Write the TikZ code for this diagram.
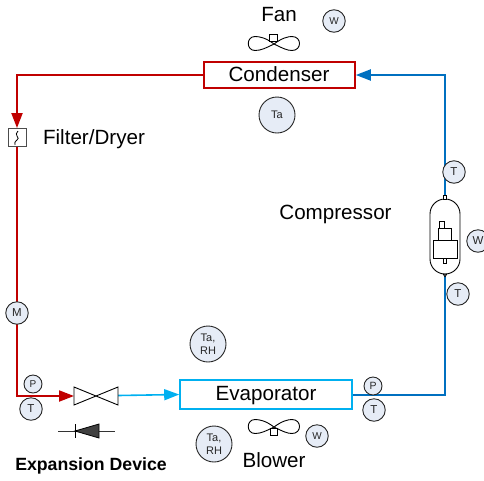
\documentclass[tikz,border=0pt]{standalone}
\usepackage{fontspec}
\setmainfont{Liberation Sans}
\usetikzlibrary{arrows.meta}
\definecolor{cRed}{HTML}{C00000}
\definecolor{cBlue}{HTML}{0070C0}
\definecolor{cSky}{HTML}{00B0F0}
\definecolor{cFill}{HTML}{E6ECF6}
\definecolor{cInk}{HTML}{262626}
\newcommand{\fanshape}[2]{%
  \draw[black,line width=0.9pt,xshift=#1,yshift=#2]
    (0,0) .. controls (-8,-6) and (-14,-7.5) .. (-19,-7.5)
    .. controls (-28,-7.5) and (-28,6.5) .. (-19,6.5)
    .. controls (-13,6.5) and (-8,4) .. (0,0)
    .. controls (8,-6) and (14,-7.5) .. (18,-7.5)
    .. controls (28,-7.5) and (28,6.5) .. (18,6.5)
    .. controls (13,6.5) and (8,4) .. (0,0) -- cycle;}
\tikzset{
  lbl/.style={font=\fontsize{20.6}{22}\selectfont,inner sep=0pt,text=black},
  unitbox/.style={draw,line width=1.6pt,fill=white,inner sep=0pt},
  pipe/.style={line width=2pt},
  tip/.style={-{Triangle[length=15pt,width=11pt]}},
  gauge/.style={circle,draw=cInk,line width=0.9pt,fill=cFill,inner sep=0pt,text=cInk,align=center,font=\fontsize{11.5}{12}\selectfont},
  gS/.style={gauge,minimum size=18pt},
  gM/.style={gauge,minimum size=22.5pt},
  gL/.style={gauge,minimum size=36pt,font=\fontsize{11}{13}\selectfont},
  part/.style={draw=black,line width=0.9pt,fill=white,inner sep=0pt},
}
\begin{document}
\begin{tikzpicture}[x=1pt,y=-1pt]
\useasboundingbox (0,0) rectangle (484,480);
% units
\node[unitbox,draw=cRed,minimum width=151pt,minimum height=26pt] (cond) at (279.5,75) {};
\node[unitbox,draw=cSky,minimum width=172pt,minimum height=29pt] (evap) at (266,394.5) {};
\node[lbl] (condt) at (279,74.5) {Condenser};
\node[lbl] (evapt) at (266,396) {Evaporator};
\node[draw=black!70,line width=0.9pt,fill=white,minimum size=18pt,inner sep=0pt] (filter) at (17,137.5) {};
\draw[black,line width=0.8pt] (18,131) .. controls (13,135) and (21,138) .. (17,140) .. controls (14,142) and (15,144) .. (15,145);
\coordinate (c1) at (17,75);
\coordinate (c2) at (17,396);
\coordinate (c3) at (445,394.5);
\coordinate (c4) at (445,75);
\coordinate (vL) at (74,396);
\coordinate (vR) at (118,395.5);
% compressor
\node[draw=black,line width=0.9pt,fill=white,rounded corners=15pt,minimum width=30pt,minimum height=75pt,inner sep=0pt] (comp) at (445,236.5) {};
\node[part,minimum width=24pt,minimum height=18pt] (cA) at (445,249) {};
\node[part,minimum width=13pt,minimum height=12pt] (cB) at (444.5,234) {};
\node[part,minimum width=5pt,minimum height=7pt] (cC) at (442,224.5) {};
\node[part,minimum width=2.5pt,minimum height=5pt] (cD) at (445,260.5) {};
\node[part,minimum width=2.5pt,minimum height=4pt] (cE) at (445,197) {};
% pipes
\draw[pipe,cRed,tip] (cond.west) -- (c1) -- (filter.north);
\draw[pipe,cRed,tip] (filter.south) -- (c2) -- (vL);
\draw[pipe,cSky,tip,line width=1.6pt] (vR) -- (evap.west);
\draw[pipe,cBlue] (evap.east) -- (c3) -- (comp.south);
\draw[pipe,cBlue,tip] (cE.north) -- (c4) -- (cond.east);
\draw[black,fill=black!70,line width=0.5pt] (443,274) -- (447,274) -- (445,277) -- cycle;
% valve
\draw[black,line width=0.9pt,fill=white] (74,387) -- (118,405) -- (118,387) -- (74,405) -- cycle;
% expansion symbol
\coordinate (eL) at (58,431);
\coordinate (eR) at (115,431);
\draw[black!80,line width=0.8pt] (eL) -- (eR);
\draw[black,line width=0.8pt,fill=black!75] (75,431) -- (99,424) -- (99,438) -- cycle;
\draw[black,line width=0.8pt] (75,424) -- (75,438);
% fans
\fanshape{274}{-44}
\node[part,minimum size=7.5pt] (fan1) at (273.5,38) {};
\fanshape{274}{-427}
\node[part,minimum size=7.5pt] (fan2) at (274,432) {};
% gauges
\node[gS,font=\fontsize{10}{12}\selectfont] (g1) at (33,384) {P};
\node[gM] (g2) at (31,409) {T};
\node[gM] (g3) at (17,313) {M};
\node[gL] (g4) at (277,115) {Ta};
\node[gM,font=\fontsize{10}{12}\selectfont] (g5) at (334,21) {W};
\node[gM] (g6) at (454,172) {T};
\node[gM] (g7) at (458,294) {T};
\node[gM] (g8) at (478,241) {W};
\node[gL] (g9) at (208,344) {Ta,\\RH};
\node[gL] (g10) at (214,444) {Ta,\\RH};
\node[gM,font=\fontsize{10}{12}\selectfont] (g11) at (317,436) {W};
\node[gS,font=\fontsize{10.5}{12}\selectfont] (g12) at (373,386) {P};
\node[gM] (g13) at (374,410) {T};
% labels
\node[lbl] (t1) at (279,15) {Fan};
\node[lbl] (t2) at (94,139) {Filter/Dryer};
\node[lbl] (t3) at (335.5,214) {Compressor};
\node[lbl] (t4) at (274,460) {Blower};
\node[lbl,font=\fontsize{17.7}{19}\selectfont\bfseries] (t5) at (91,465.5) {Expansion Device};
\end{tikzpicture}
\end{document}
